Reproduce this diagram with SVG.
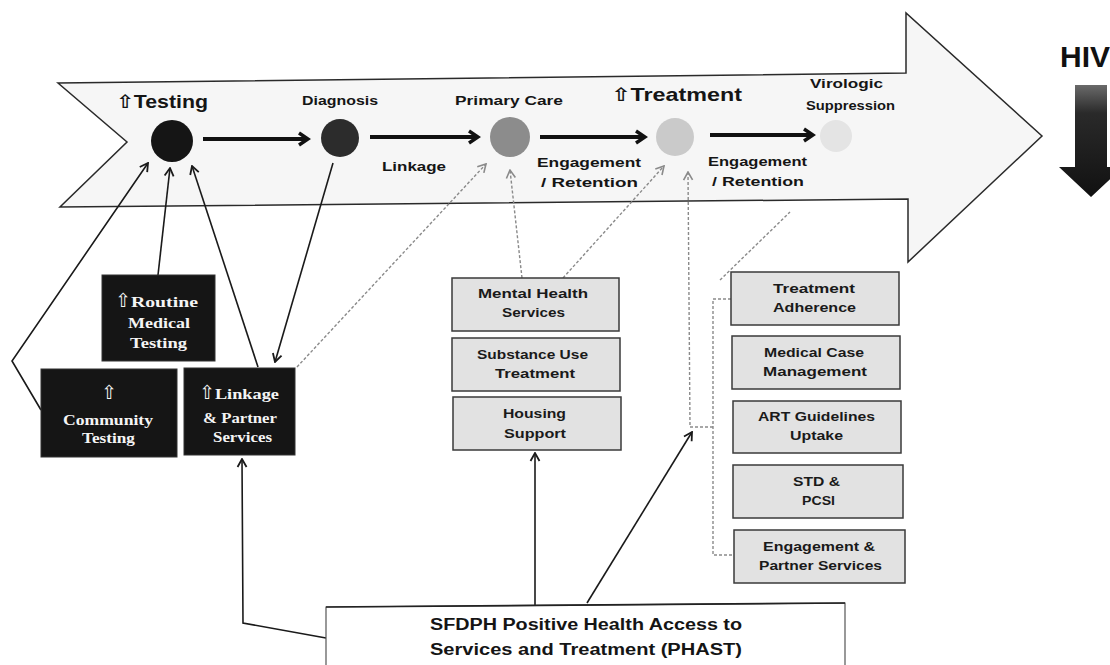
<svg xmlns="http://www.w3.org/2000/svg" width="1110" height="665" viewBox="0 0 1110 665">
<style>
.lbl{font-family:"Liberation Sans","DejaVu Sans",sans-serif;font-weight:bold;fill:#151515}
.blk rect{fill:#151515;stroke:#333;stroke-width:1}
.blk text{font-family:"Liberation Serif","DejaVu Serif",serif;font-weight:bold;font-size:14px;fill:#f4f4f4;text-anchor:start}
.blk .up{font-family:"DejaVu Sans",sans-serif;font-weight:normal;font-size:19px}
.gry rect{fill:#e2e2e2;stroke:#3a3a3a;stroke-width:1.5}
.gry text{font-family:"Liberation Sans","DejaVu Sans",sans-serif;font-weight:bold;font-size:13.5px;fill:#1a1a1a}
.flow{stroke:#111;stroke-width:4;fill:none}
.thin{stroke:#1a1a1a;stroke-width:1.6;fill:none}
.dash{stroke:#8a8a8a;stroke-width:1.4;fill:none;stroke-dasharray:3 2}
</style>
<defs>
<marker id="mFlow" markerUnits="userSpaceOnUse" viewBox="0 0 16 16" refX="13" refY="8" markerWidth="16" markerHeight="16" orient="auto">
<path d="M4,2 L13,8 L4,14" fill="none" stroke="#111" stroke-width="3.5"/>
</marker>
<marker id="mBlk" markerUnits="userSpaceOnUse" viewBox="0 0 12 12" refX="11" refY="6" markerWidth="12" markerHeight="12" orient="auto">
<path d="M3,1.5 L11,6 L3,10.5" fill="none" stroke="#1a1a1a" stroke-width="1.8"/>
</marker>
<marker id="mGry" markerUnits="userSpaceOnUse" viewBox="0 0 12 12" refX="11" refY="6" markerWidth="12" markerHeight="12" orient="auto">
<path d="M3,1.5 L11,6 L3,10.5" fill="none" stroke="#8a8a8a" stroke-width="1.6"/>
</marker>
<linearGradient id="hivGrad" x1="0" y1="0" x2="0" y2="1">
<stop offset="0" stop-color="#6a6a6a"/>
<stop offset="0.25" stop-color="#2a2a2a"/>
<stop offset="1" stop-color="#111"/>
</linearGradient>
</defs>
<rect width="1110" height="665" fill="#ffffff"/>

<g id="bigArrow">
<polygon points="58,83 906,73 906,13 1042,136 908,262 908,199 60,207 127,142" fill="#f6f6f6" stroke="#2a2a2a" stroke-width="1.5"/>
</g>

<g id="hiv">
<text class="lbl" x="1060" y="67" font-size="30" style="fill:#111">HIV</text>
<polygon points="1075,85 1107,85 1107,167 1123,167 1091,197 1059,167 1075,167" fill="url(#hivGrad)"/>
</g>

<g id="stage-testing">
<circle cx="172" cy="141" r="21" fill="#151515"/>
<text class="lbl" x="116" y="108" font-size="18.5" textLength="92" lengthAdjust="spacingAndGlyphs">⇧Testing</text>
</g>
<g id="stage-diagnosis">
<circle cx="340" cy="138" r="19" fill="#2c2c2c"/>
<text class="lbl" x="302" y="105" font-size="12.5" textLength="76" lengthAdjust="spacingAndGlyphs">Diagnosis</text>
</g>
<g id="stage-primary">
<circle cx="510" cy="137" r="20" fill="#8c8c8c"/>
<text class="lbl" x="455" y="105" font-size="12.5" textLength="108" lengthAdjust="spacingAndGlyphs">Primary Care</text>
</g>
<g id="stage-treatment">
<circle cx="675" cy="137" r="19" fill="#cacaca"/>
<text class="lbl" x="611" y="101" font-size="18.5" textLength="131" lengthAdjust="spacingAndGlyphs">⇧Treatment</text>
</g>
<g id="stage-virologic">
<circle cx="836" cy="136" r="16" fill="#e4e4e4"/>
<text class="lbl" x="810" y="88" font-size="12.5" textLength="73" lengthAdjust="spacingAndGlyphs">Virologic</text>
<text class="lbl" x="806" y="110" font-size="12.5" textLength="89" lengthAdjust="spacingAndGlyphs">Suppression</text>
</g>

<g id="flow-labels">
<text class="lbl" x="382" y="171" font-size="13" textLength="64" lengthAdjust="spacingAndGlyphs">Linkage</text>
<text class="lbl" x="537" y="167" font-size="13" textLength="104" lengthAdjust="spacingAndGlyphs">Engagement</text>
<text class="lbl" x="541" y="187" font-size="13" textLength="97" lengthAdjust="spacingAndGlyphs">/ Retention</text>
<text class="lbl" x="708" y="166" font-size="13" textLength="99" lengthAdjust="spacingAndGlyphs">Engagement</text>
<text class="lbl" x="712" y="186" font-size="13" textLength="92" lengthAdjust="spacingAndGlyphs">/ Retention</text>
</g>

<g id="connectors">
<path class="flow" d="M203,139 L308,139" marker-end="url(#mFlow)"/>
<path class="flow" d="M370,137 L478,137" marker-end="url(#mFlow)"/>
<path class="flow" d="M540,137 L645,137" marker-end="url(#mFlow)"/>
<path class="flow" d="M710,135 L813,135" marker-end="url(#mFlow)"/>

<path class="thin" d="M41,410 L12,361 L148,163" marker-end="url(#mBlk)"/>
<path class="thin" d="M158,275 L170,168" marker-end="url(#mBlk)"/>
<path class="thin" d="M258,367 L192,166" marker-end="url(#mBlk)"/>
<path class="thin" d="M333,163 L275,362" marker-end="url(#mBlk)"/>
<path class="thin" d="M535,605 L535,453" marker-end="url(#mBlk)"/>
<path class="thin" d="M326,638 L243,623 L242,459" marker-end="url(#mBlk)"/>
<path class="thin" d="M587,603 L692,432" marker-end="url(#mBlk)"/>

<path class="dash" d="M297,367 L486,164" marker-end="url(#mGry)"/>
<path class="dash" d="M522,278 L510,170" marker-end="url(#mGry)"/>
<path class="dash" d="M563,278 L664,166" marker-end="url(#mGry)"/>
<path class="dash" d="M713,427 L690,427 L688,172" marker-end="url(#mGry)"/>
<path class="dash" d="M731,299 L713,299 L713,555 L734,555"/>
<path class="dash" d="M720,280 L790,212"/>
</g>

<g id="routine" class="blk">
<rect x="102" y="275" width="113" height="86"/>
<text x="115" y="307"><tspan class="up">⇧</tspan><tspan textLength="67" lengthAdjust="spacingAndGlyphs">Routine</tspan></text>
<text x="128" y="328" textLength="62" lengthAdjust="spacingAndGlyphs">Medical</text>
<text x="130" y="348" textLength="57" lengthAdjust="spacingAndGlyphs">Testing</text>
</g>
<g id="community" class="blk">
<rect x="41" y="369" width="136" height="88"/>
<text x="101" y="399" class="up">⇧</text>
<text x="63" y="425" textLength="90" lengthAdjust="spacingAndGlyphs">Community</text>
<text x="82" y="443" textLength="53" lengthAdjust="spacingAndGlyphs">Testing</text>
</g>
<g id="linkage" class="blk">
<rect x="184" y="368" width="111" height="87"/>
<text x="199" y="399"><tspan class="up">⇧</tspan><tspan textLength="64" lengthAdjust="spacingAndGlyphs">Linkage</tspan></text>
<text x="203" y="423" textLength="74" lengthAdjust="spacingAndGlyphs">&amp; Partner</text>
<text x="213" y="442" textLength="59" lengthAdjust="spacingAndGlyphs">Services</text>
</g>

<g id="mental" class="gry">
<rect x="452" y="278" width="167" height="53"/>
<text x="478" y="298" textLength="110" lengthAdjust="spacingAndGlyphs">Mental Health</text>
<text x="502" y="317" textLength="63" lengthAdjust="spacingAndGlyphs">Services</text>
</g>
<g id="substance" class="gry">
<rect x="452" y="338" width="168" height="53"/>
<text x="477" y="359" textLength="111" lengthAdjust="spacingAndGlyphs">Substance Use</text>
<text x="495" y="378" textLength="80" lengthAdjust="spacingAndGlyphs">Treatment</text>
</g>
<g id="housing" class="gry">
<rect x="453" y="397" width="168" height="53"/>
<text x="503" y="418" textLength="63" lengthAdjust="spacingAndGlyphs">Housing</text>
<text x="504" y="438" textLength="62" lengthAdjust="spacingAndGlyphs">Support</text>
</g>
<g id="adherence" class="gry">
<rect x="731" y="272" width="168" height="53"/>
<text x="773" y="293" textLength="82" lengthAdjust="spacingAndGlyphs">Treatment</text>
<text x="773" y="312" textLength="83" lengthAdjust="spacingAndGlyphs">Adherence</text>
</g>
<g id="casemgmt" class="gry">
<rect x="732" y="336" width="168" height="53"/>
<text x="764" y="357" textLength="100" lengthAdjust="spacingAndGlyphs">Medical Case</text>
<text x="763" y="376" textLength="104" lengthAdjust="spacingAndGlyphs">Management</text>
</g>
<g id="art" class="gry">
<rect x="733" y="401" width="168" height="52"/>
<text x="758" y="421" textLength="117" lengthAdjust="spacingAndGlyphs">ART Guidelines</text>
<text x="790" y="440" textLength="53" lengthAdjust="spacingAndGlyphs">Uptake</text>
</g>
<g id="std" class="gry">
<rect x="733" y="465" width="170" height="53"/>
<text x="793" y="486" textLength="47" lengthAdjust="spacingAndGlyphs">STD &amp;</text>
<text x="802" y="505" textLength="33" lengthAdjust="spacingAndGlyphs">PCSI</text>
</g>
<g id="engagement" class="gry">
<rect x="734" y="530" width="171" height="53"/>
<text x="763" y="551" textLength="112" lengthAdjust="spacingAndGlyphs">Engagement &amp;</text>
<text x="759" y="570" textLength="123" lengthAdjust="spacingAndGlyphs">Partner Services</text>
</g>

<g id="phast">
<path d="M326,672 L326,607 L845,603 L845,672" fill="#ffffff" stroke="#555" stroke-width="1.2"/>
<path d="M326,607 L845,603" stroke="#222" stroke-width="1.6" fill="none"/>
<text class="lbl" x="430" y="630" font-size="16" textLength="312" lengthAdjust="spacingAndGlyphs">SFDPH Positive Health Access to</text>
<text class="lbl" x="430" y="655" font-size="16" textLength="312" lengthAdjust="spacingAndGlyphs">Services and Treatment (PHAST)</text>
</g>
</svg>
